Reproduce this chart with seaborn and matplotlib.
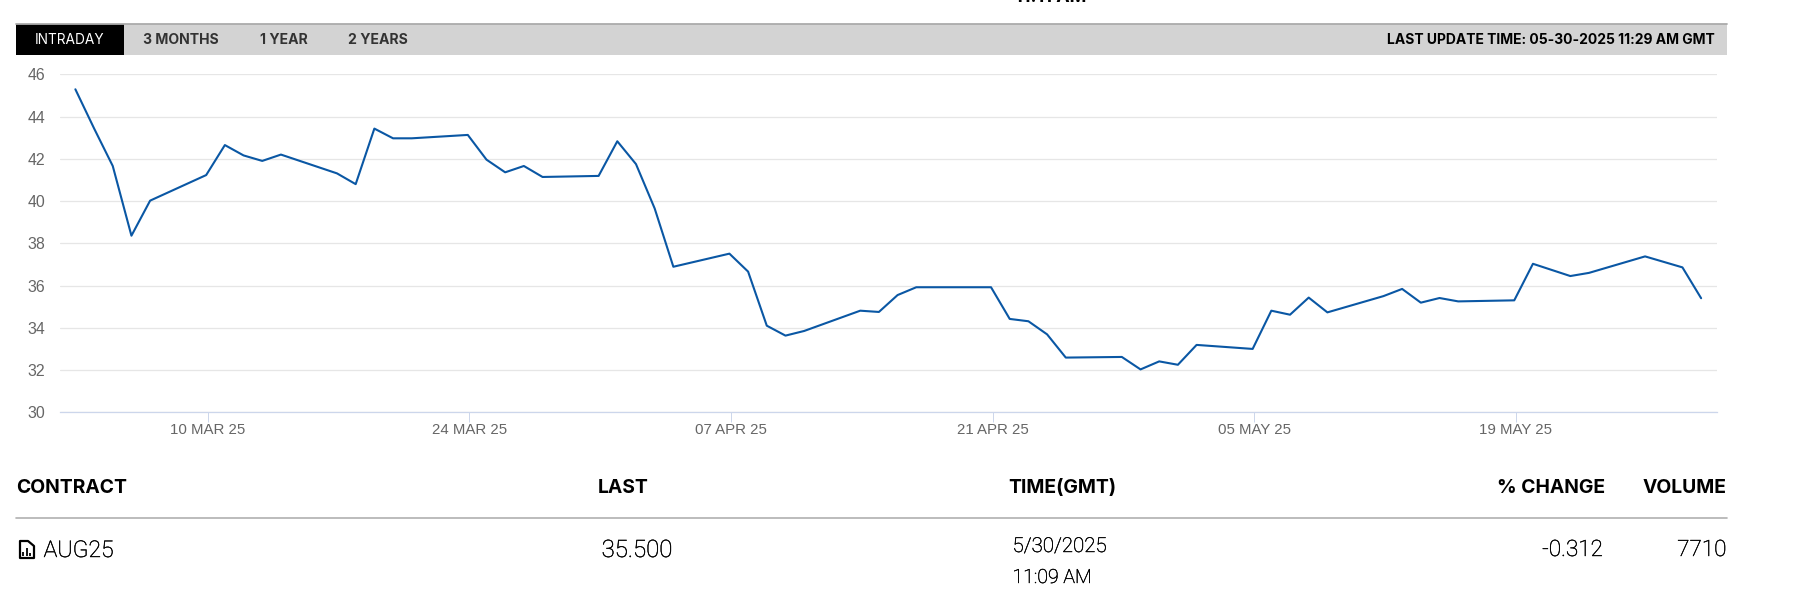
import pandas as pd
import matplotlib
matplotlib.use('Agg')
import matplotlib.pyplot as plt
import matplotlib.dates as mdates
import matplotlib.patheffects as pe
from matplotlib.patches import Rectangle, Polygon
import seaborn as sns

# Values
datas = ['2025-03-03', '2025-03-04', '2025-03-05', '2025-03-06', '2025-03-07',
         '2025-03-10', '2025-03-11', '2025-03-12', '2025-03-13', '2025-03-14',
         '2025-03-17', '2025-03-18', '2025-03-19', '2025-03-20', '2025-03-21',
         '2025-03-24', '2025-03-25', '2025-03-26', '2025-03-27', '2025-03-28',
         '2025-03-31', '2025-04-01', '2025-04-02', '2025-04-03', '2025-04-04',
         '2025-04-07', '2025-04-08', '2025-04-09', '2025-04-10', '2025-04-11',
         '2025-04-14', '2025-04-15', '2025-04-16', '2025-04-17',
         '2025-04-21', '2025-04-22', '2025-04-23', '2025-04-24', '2025-04-25',
         '2025-04-28', '2025-04-29', '2025-04-30', '2025-05-01', '2025-05-02',
         '2025-05-05', '2025-05-06', '2025-05-07', '2025-05-08', '2025-05-09',
         '2025-05-12', '2025-05-13', '2025-05-14', '2025-05-15', '2025-05-16',
         '2025-05-19', '2025-05-20', '2025-05-22', '2025-05-23',
         '2025-05-26', '2025-05-28', '2025-05-29']
precos = [45.29, 43.44, 41.66, 38.36, 40.02,
          41.23, 42.65, 42.16, 41.90, 42.20,
          41.31, 40.80, 43.43, 42.97, 42.97,
          43.13, 41.96, 41.36, 41.66, 41.14,
          41.19, 42.83, 41.75, 39.65, 36.89,
          37.51, 36.66, 34.10, 33.63, 33.85,
          34.81, 34.75, 35.55, 35.92,
          35.92, 34.42, 34.31, 33.69, 32.59,
          32.62, 32.03, 32.41, 32.25, 33.19,
          33.00, 34.81, 34.62, 35.43, 34.73,
          35.50, 35.84, 35.19, 35.41, 35.25,
          35.30, 37.03, 36.45, 36.60,
          37.38, 36.86, 35.40]
ticks_y = [30, 32, 34, 36, 38, 40, 42, 44, 46]
ticks_x = ['2025-03-10', '2025-03-24', '2025-04-07', '2025-04-21', '2025-05-05', '2025-05-19']
abas = ['3 MONTHS', '1 YEAR', '2 YEARS']
colunas = ['CONTRACT', 'LAST', 'TIME(GMT)', '% CHANGE', 'VOLUME']

# Os pontos ficam um pouco antes da marca do dia no original
df = pd.DataFrame({'data': pd.to_datetime(datas) - pd.Timedelta(hours=2), 'preco': precos})

sns.set_theme(style='whitegrid')
plt.rcParams['font.family'] = ['Liberation Sans', 'DejaVu Sans']

W, H = 1799, 602
fig = plt.figure(figsize=(W / 100, H / 100), dpi=100, facecolor='white')

# Eixo do grafico, posicionado em pixels
esq, dir_, topo, base = 60.3, 1716.7, 74.3, 412.3
ax = fig.add_axes([esq / W, 1 - base / H, (dir_ - esq) / W, (base - topo) / H])
sns.lineplot(data=df, x='data', y='preco', ax=ax, color='#0a57a4', linewidth=1.5, zorder=3)

ax.set_ylim(30, 46)
d0 = mdates.date2num(pd.Timestamp('2025-03-10'))
ax.set_xlim(d0 - 7.89, d0 + 80.75)
ax.set_xlabel('')
ax.set_ylabel('')
ax.set_yticks(ticks_y)
ax.set_xticks(pd.to_datetime(ticks_x))
ax.set_xticklabels([pd.Timestamp(t).strftime('%d %b %y').upper() for t in ticks_x])
ax.grid(False)
ax.grid(axis='y', color='#e6e6e6', linewidth=0.9)
for lado in ['top', 'right', 'left']:
    ax.spines[lado].set_visible(False)
ax.spines['bottom'].set_color('#ccd6eb')
ax.spines['bottom'].set_linewidth(0.9)
ax.tick_params(axis='x', length=7, width=0.7, color='#ccd6eb', labelcolor='#666666',
               labelsize=10.8, pad=1, bottom=True)
ax.tick_params(axis='y', length=0, labelcolor='#666666', labelsize=11.4, pad=11)

# Camada em pixels para barra de abas e tabela
ov = fig.add_axes([0, 0, 1, 1], facecolor='none')
ov.set_xlim(0, W)
ov.set_ylim(H, 0)
ov.axis('off')


def texto(x, y, s, px=14, cor='black', peso='normal', ha='left', va='center', fam='Inter'):
    t = ov.text(x, y, s, fontsize=px * 0.72, color=cor, fontweight=peso, ha=ha, va=va,
                family=[fam, 'DejaVu Sans'], clip_on=False)
    if peso == 'light':
        # escurece um pouco o traco fino
        t.set_path_effects([pe.withStroke(linewidth=0.3, foreground=cor)])


# Barra de abas
ov.add_patch(Rectangle((16, 24), 1710.7, 31, color='#d3d3d3', lw=0))
ov.plot([16, 1726.7], [23.7, 23.7], color='#ababab', lw=1.3)
ov.add_patch(Rectangle((16, 24), 108, 31, color='black', lw=0))
texto(70, 40.5, 'INTRADAY', px=13.7, cor='white', ha='center')
for x, s in zip([143.5, 260, 348.5], abas):
    texto(x, 40.5, s, px=14, cor='#333333', peso='bold')
texto(1715, 40.5, 'LAST UPDATE TIME: 05-30-2025 11:29 AM GMT', px=13.9, peso='bold', ha='right')

# Texto cortado no topo da imagem
texto(1015, 2, '11:11 AM', px=18, peso='bold', va='baseline')

# Tabela
for x, s in zip([16, 598, 1008, 1497], colunas[:4]):
    texto(x, 488, s, px=19.3, peso='bold')
texto(1726.7, 488, colunas[4], px=19.3, peso='bold', ha='right')
ov.plot([16, 1726.7], [518.2, 518.2], color='#b0b0b0', lw=1.2)

# Icone do contrato
ov.add_patch(Polygon([(20, 541), (28, 541), (34, 546), (34, 558), (20, 558)], closed=True,
                     facecolor='white', edgecolor='black', lw=1.6, joinstyle='round'))
for x, h in [(23.5, 4), (27, 8), (30.5, 3)]:
    ov.plot([x, x], [556, 556 - h], color='black', lw=1.3, solid_capstyle='butt')

texto(43.6, 550.5, 'AUG25', px=23, peso='light', fam='Roboto')
texto(601.6, 550.5, '35.500', px=24, peso='light', fam='Roboto')
texto(1012.5, 546.5, '5/30/2025', px=20.5, peso='light', fam='Roboto')
texto(1012.5, 578, '11:09 AM', px=19.5, peso='light', fam='Roboto')
texto(1603, 550.5, '-0.312', px=22.5, peso='light', ha='right', fam='Roboto')
texto(1726.7, 550.5, '7710', px=22.5, peso='light', ha='right', fam='Roboto')

fig.savefig('out.png', dpi=100)
